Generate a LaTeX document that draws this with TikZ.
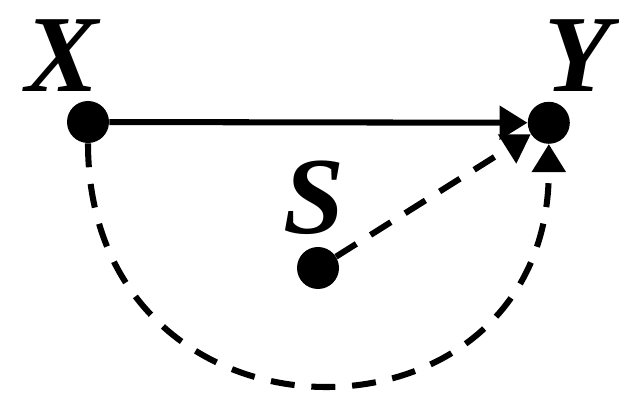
\documentclass[tikz,border=0pt]{standalone}
\usepackage{fontspec}
\setmainfont{Liberation Serif}
\usetikzlibrary{arrows.meta}
\tikzset{
  dot/.style={circle,fill,inner sep=0pt,minimum size=1.05cm},
  lbl/.style={font=\fontsize{78}{82}\selectfont\bfseries\itshape},
  arr/.style={line width=4.3pt,-{Triangle[length=0.7cm,width=0.82cm]}},
  dsh/.style={arr,dash pattern=on 0.6cm off 0.42cm}
}
\begin{document}
\begin{tikzpicture}
	\useasboundingbox (0,0) rectangle (15.475,9.85);
	\node[dot] (x) at (2.2,6.8) {};
	\node[dot] (y) at (13.72,6.78) {};
	\node[dot] (s) at (7.95,3.15) {};
	\node[lbl] (xl) at (1.55,8.45) {X};
	\node[lbl] (yl) at (14.45,8.45) {Y};
	\node[lbl] (sl) at (7.85,4.9) {S};
	\draw[arr] (x)--(y);
	\draw[dsh] (s)--(y);
	\draw[dsh] (x.south) to[out=-90,in=-90,looseness=1.78] (y.south);
\end{tikzpicture}
\end{document}
